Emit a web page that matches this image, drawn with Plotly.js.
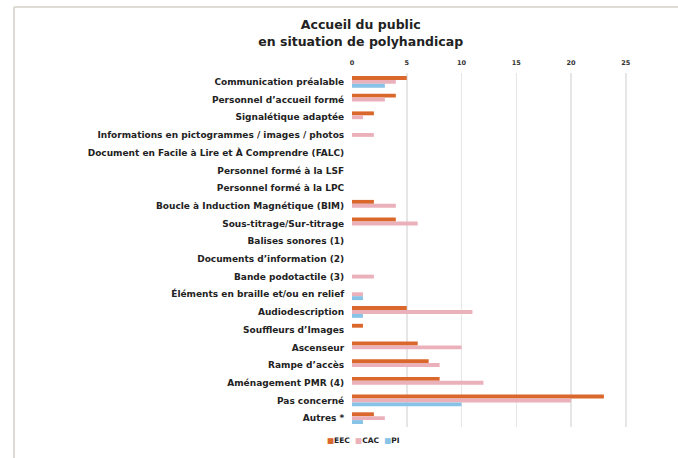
<!DOCTYPE html>
<html>
<head>
<meta charset="utf-8">
<script src="https://cdn.plot.ly/plotly-3.0.1.min.js"></script>
<style>
html,body{margin:0;padding:0;background:#fff;}
#chart{width:678px;height:458px;}
</style>
</head>
<body>
<div id="chart"></div>
<script>
const categories = [
  "Communication préalable",
  "Personnel d’accueil formé",
  "Signalétique adaptée",
  "Informations en pictogrammes / images / photos",
  "Document en Facile à Lire et À Comprendre (FALC)",
  "Personnel formé à la LSF",
  "Personnel formé à la LPC",
  "Boucle à Induction Magnétique (BIM)",
  "Sous-titrage/Sur-titrage",
  "Balises sonores (1)",
  "Documents d’information (2)",
  "Bande podotactile (3)",
  "Éléments en braille et/ou en relief",
  "Audiodescription",
  "Souffleurs d’Images",
  "Ascenseur",
  "Rampe d’accès",
  "Aménagement PMR (4)",
  "Pas concerné",
  "Autres *"
];
const eec = [5, 4, 2, 0, 0, 0, 0, 2, 4, 0, 0, 0, 0, 5, 1, 6, 7, 8, 23, 2];
const cac = [4, 3, 1, 2, 0, 0, 0, 4, 6, 0, 0, 2, 1, 11, 0, 10, 8, 12, 20, 3];
const pi  = [3, 0, 0, 0, 0, 0, 0, 0, 0, 0, 0, 0, 1, 1, 0, 0, 0, 0, 10, 1];
const seriesNames = ["EEC", "CAC", "PI"];
const seriesColors = ["#DA672C", "#EBB1BB", "#86C3E6"];
const xTicks = [0, 5, 10, 15, 20, 25];

const FONT = "'DejaVu Sans', Lato, sans-serif";

const data = [eec, cac, pi].map((vals, i) => ({
  type: "bar",
  orientation: "h",
  name: seriesNames[i],
  x: vals,
  y: categories,
  marker: {color: seriesColors[i]},
  hoverinfo: "x+name"
}));

const legendText = seriesNames.map((n, i) =>
  "<span style='color:" + seriesColors[i] + "'>■</span>" + n).join("  ");

const layout = {
  width: 678,
  height: 458,
  margin: {l: 352, r: 50, t: 73, b: 31},
  paper_bgcolor: "#fff",
  plot_bgcolor: "#fff",
  font: {family: FONT, color: "#222"},
  title: {
    text: "<b>Accueil du public<br>en situation de polyhandicap</b>",
    font: {size: 12.5, color: "#222", family: FONT},
    x: 0.532, xanchor: "center",
    y: 0.936, yanchor: "middle"
  },
  barmode: "group",
  bargap: 0.34,
  bargroupgap: 0,
  showlegend: false,
  xaxis: {
    side: "top",
    range: [0, 25.2],
    tickvals: xTicks,
    ticktext: xTicks.map(String),
    showgrid: true,
    gridcolor: "#e6e6e6",
    gridwidth: 1.5,
    zeroline: false,
    showline: false,
    ticks: "outside",
    ticklen: 4,
    tickcolor: "rgba(0,0,0,0)",
    tickfont: {size: 6.5, color: "#333", weight: 700},
    fixedrange: true
  },
  yaxis: {
    type: "category",
    autorange: "reversed",
    showgrid: false,
    zeroline: false,
    showline: false,
    ticks: "outside",
    ticklen: 5,
    tickcolor: "rgba(0,0,0,0)",
    tickfont: {size: 9, color: "#222", weight: 700},
    fixedrange: true
  },
  annotations: [{
    xref: "paper", yref: "paper",
    x: (363 - 352) / 276, y: -(440 - 427) / 354,
    xanchor: "center", yanchor: "middle",
    showarrow: false,
    text: legendText,
    font: {size: 7.5, color: "#222", family: FONT, weight: 700}
  }],
  shapes: [
    {type: "line", xref: "paper", yref: "paper",
     x0: (14 - 352) / 276, x1: 1.3, y0: 1 + (73 - 7) / 354, y1: 1 + (73 - 7) / 354,
     line: {color: "#dedbd5", width: 2}},
    {type: "line", xref: "paper", yref: "paper",
     x0: (14 - 352) / 276, x1: (14 - 352) / 276, y0: 1 + (73 - 7) / 354, y1: -0.2,
     line: {color: "#dedbd5", width: 2}}
  ]
};

Plotly.newPlot("chart", data, layout, {displayModeBar: false, staticPlot: true});
</script>
</body>
</html>
